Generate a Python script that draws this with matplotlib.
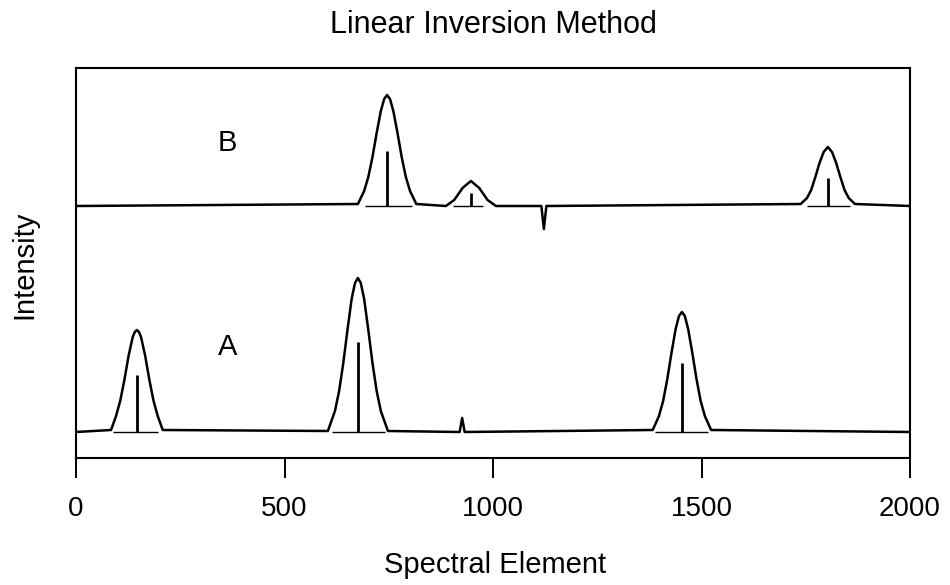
import matplotlib
matplotlib.use("Agg")
import matplotlib.pyplot as plt

plt.rcParams["font.family"] = ["Liberation Sans", "DejaVu Sans"]

# spectrum A (lower trace)
a_x = [0,
       84, 96, 106, 116, 126, 136, 141, 146, 151, 156, 166, 176, 186, 196, 208,
       604, 621, 631, 641, 651, 661, 669, 676, 683, 691, 701, 711, 721, 731, 748,
       920, 926, 932,
       1383, 1398, 1408, 1418, 1428, 1438, 1446, 1453, 1460, 1468, 1478, 1488,
       1498, 1508, 1523,
       2000]
a_y = [26,
       28, 42, 57, 78, 102, 121, 126, 128, 126, 121, 102, 78, 57, 42, 28,
       27, 47, 67, 95, 128, 159, 175, 180, 175, 159, 128, 95, 67, 47, 27,
       26, 40, 26,
       28, 42, 57, 79, 105, 129, 142, 146, 142, 129, 105, 79, 57, 42, 28,
       26]

# spectrum B (upper trace)
b_x = [0,
       676, 691, 701, 711, 721, 731, 739, 746, 753, 761, 771, 781, 791, 801, 816,
       887, 907, 927, 947, 967, 987, 1007,
       1116, 1122, 1128,
       1738, 1753, 1763, 1773, 1783, 1793, 1803, 1813, 1823, 1833, 1843, 1853, 1868,
       2000]
b_y = [252,
       254, 267, 281, 301, 325, 347, 359, 363, 359, 347, 325, 301, 281, 267, 254,
       252, 258, 270, 277, 270, 258, 252,
       252, 229, 252,
       254, 260, 268, 281, 295, 306, 311, 306, 295, 281, 268, 260, 254,
       252]

# recovered lines (stick positions and heights above baseline)
stick_a_x = [146, 676, 1453]
stick_a_h = [57, 90, 69]
stick_b_x = [746, 947, 1803]
stick_b_h = [55, 13, 28]

# baseline segments drawn under each peak
seg_a = [(89, 197), (614, 741), (1388, 1516)]
seg_b = [(693, 806), (904, 976), (1753, 1856)]

base_a = 26
base_b = 252

fig = plt.figure(figsize=(9.5, 5.85), dpi=100)
ax = fig.add_axes([76 / 950, 127 / 585, 834 / 950, 390 / 585])

ax.plot(a_x, a_y, color="black", lw=1.8)
ax.plot(b_x, b_y, color="black", lw=1.8)

ax.vlines(stick_a_x, base_a, [base_a + h for h in stick_a_h], color="black", lw=2)
ax.vlines(stick_b_x, base_b, [base_b + h for h in stick_b_h], color="black", lw=2)
ax.hlines([base_a] * len(seg_a), [s[0] for s in seg_a], [s[1] for s in seg_a],
          color="black", lw=1)
ax.hlines([base_b] * len(seg_b), [s[0] for s in seg_b], [s[1] for s in seg_b],
          color="black", lw=1)

ax.text(364, 111, "A", fontsize=21, ha="center", va="center")
ax.text(364, 315, "B", fontsize=21, ha="center", va="center")

ax.set_xlim(0, 2000)
ax.set_ylim(0, 390)
ax.set_xticks([0, 500, 1000, 1500, 2000])
ax.set_yticks([])
ax.tick_params(axis="x", direction="out", length=14.4, width=1.4,
               labelsize=20, pad=13)
for s in ax.spines.values():
    s.set_linewidth(1.5)

fig.text(493 / 950, 1 - 33 / 585, "Linear Inversion Method", fontsize=22,
         ha="center", va="baseline")
fig.text(495 / 950, 1 - 573 / 585, "Spectral Element", fontsize=21,
         ha="center", va="baseline")
fig.text(24 / 950, 1 - 265 / 585, "Intensity", fontsize=21, rotation=90,
         ha="center", va="center")

fig.savefig("out.png", dpi=100)
